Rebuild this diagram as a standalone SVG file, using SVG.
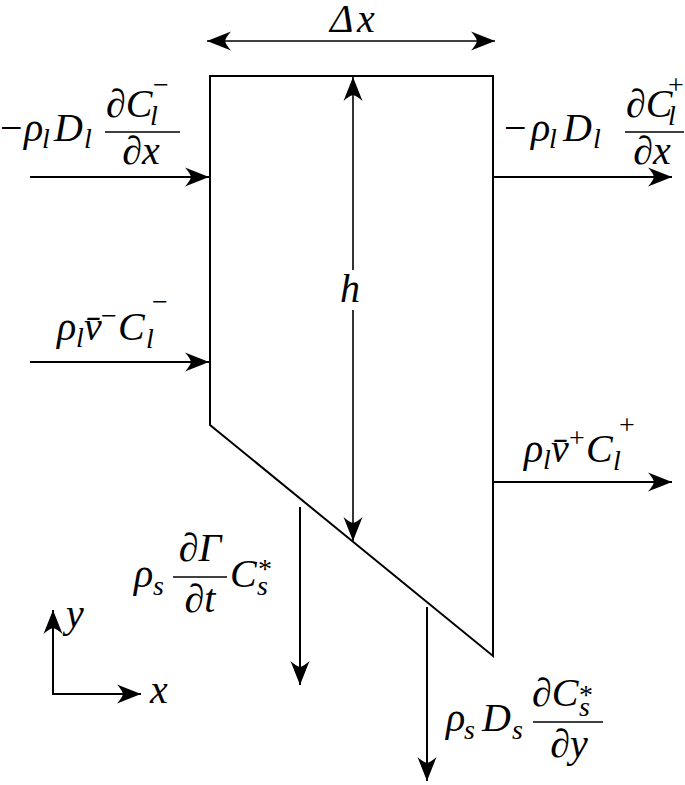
<svg xmlns="http://www.w3.org/2000/svg" width="685" height="785" viewBox="0 0 685 785">
<defs>
<style>
.m{font-family:"Liberation Serif","Times New Roman",serif;font-style:italic;font-size:40px;fill:#000}
.s{font-size:28px}
.r{font-style:normal}
.c{text-anchor:middle}
.ln{stroke:#000;stroke-width:2;fill:none}
.th{stroke:#000;stroke-width:1.6;fill:none}
.bar{stroke:#000;stroke-width:1.6}
</style>
<marker id="ah" markerUnits="userSpaceOnUse" markerWidth="30" markerHeight="24" viewBox="0 0 30 24" refX="25" refY="12" orient="auto-start-reverse">
<path d="M25,12 L1,2.5 Q6,8 7,12 Q6,16 1,21.5 Z" fill="#000"/>
</marker>
</defs>
<rect width="685" height="785" fill="#fff"/>

<g id="volume">
<polygon points="210,76 493,76 493,656 210,425" class="ln"/>
</g>

<g id="connectors">
<line x1="207" y1="41" x2="495" y2="41" class="th" marker-start="url(#ah)" marker-end="url(#ah)"/>
<line x1="353" y1="270" x2="353" y2="77" class="th" marker-end="url(#ah)"/>
<line x1="353" y1="310" x2="353" y2="541" class="th" marker-end="url(#ah)"/>
<line x1="30" y1="177" x2="209" y2="177" class="ln" marker-end="url(#ah)"/>
<line x1="30" y1="362" x2="209" y2="362" class="ln" marker-end="url(#ah)"/>
<line x1="493" y1="177" x2="672" y2="177" class="ln" marker-end="url(#ah)"/>
<line x1="493" y1="482" x2="672" y2="482" class="ln" marker-end="url(#ah)"/>
<line x1="300" y1="507" x2="300" y2="685" class="ln" marker-end="url(#ah)"/>
<line x1="427" y1="607" x2="427" y2="781" class="ln" marker-end="url(#ah)"/>
<line x1="53" y1="694" x2="53" y2="610" class="ln" marker-end="url(#ah)"/>
<line x1="52" y1="694" x2="141" y2="694" class="ln" marker-end="url(#ah)"/>
</g>

<g id="label-dx">
<text class="m" x="330" y="32">Δ<tspan x="357">x</tspan></text>
</g>

<g id="label-h">
<text class="m" x="340" y="302">h</text>
</g>

<g id="label-diff-in">
<text class="m" x="0" y="141"><tspan class="r">−</tspan><tspan x="24">ρ</tspan><tspan class="s" x="42" y="148">l</tspan><tspan x="54" y="141">D</tspan><tspan class="s" x="84" y="148">l</tspan></text>
<line x1="105" y1="132" x2="180" y2="132" class="bar"/>
<text class="m" x="106" y="117">∂C<tspan class="s" x="150" y="125">l</tspan><tspan class="s r" x="153" y="94">−</tspan></text>
<text class="m c" x="141" y="164">∂x</text>
</g>

<g id="label-diff-out">
<text class="m" x="504" y="141"><tspan class="r">−</tspan><tspan x="531">ρ</tspan><tspan class="s" x="549" y="148">l</tspan><tspan x="563" y="141">D</tspan><tspan class="s" x="593" y="148">l</tspan></text>
<line x1="625" y1="132" x2="684" y2="132" class="bar"/>
<text class="m" x="626" y="117">∂C<tspan class="s" x="668" y="125">l</tspan><tspan class="s r" x="668" y="94">+</tspan></text>
<text class="m c" x="652" y="164">∂x</text>
</g>

<g id="label-adv-in">
<text class="m" x="57" y="340">ρ<tspan class="s" x="76" y="347">l</tspan><tspan x="84" y="340">v̄</tspan><tspan class="s r" x="101" y="325">−</tspan><tspan x="118" y="340">C</tspan><tspan class="s" x="146" y="348">l</tspan><tspan class="s r" x="152" y="311">−</tspan></text>
</g>

<g id="label-adv-out">
<text class="m" x="524" y="462">ρ<tspan class="s" x="543" y="469">l</tspan><tspan x="551" y="462">v̄</tspan><tspan class="s r" x="569" y="447">+</tspan><tspan x="586" y="462">C</tspan><tspan class="s" x="613" y="470">l</tspan><tspan class="s r" x="619" y="434">+</tspan></text>
</g>

<g id="label-solid-growth">
<text class="m" x="134" y="587">ρ<tspan class="s" x="153" y="595">s</tspan></text>
<line x1="173" y1="577" x2="227" y2="577" class="bar"/>
<text class="m c" x="200" y="561">∂Γ</text>
<text class="m c" x="200" y="612">∂t</text>
<text class="m" x="230" y="587">C<tspan class="s r" x="258" y="578">*</tspan><tspan class="s" x="257" y="595">s</tspan></text>
</g>

<g id="label-solid-diff">
<text class="m" x="446" y="731">ρ<tspan class="s" x="464" y="739">s</tspan><tspan x="482" y="731">D</tspan><tspan class="s" x="512" y="739">s</tspan></text>
<line x1="533" y1="722" x2="603" y2="722" class="bar"/>
<text class="m" x="532" y="706">∂C<tspan class="s r" x="579" y="704">*</tspan><tspan class="s" x="579" y="716">s</tspan></text>
<text class="m c" x="569" y="757">∂y</text>
</g>

<g id="axes-labels">
<text class="m" x="66" y="627">y</text>
<text class="m" x="150" y="703">x</text>
</g>
</svg>
